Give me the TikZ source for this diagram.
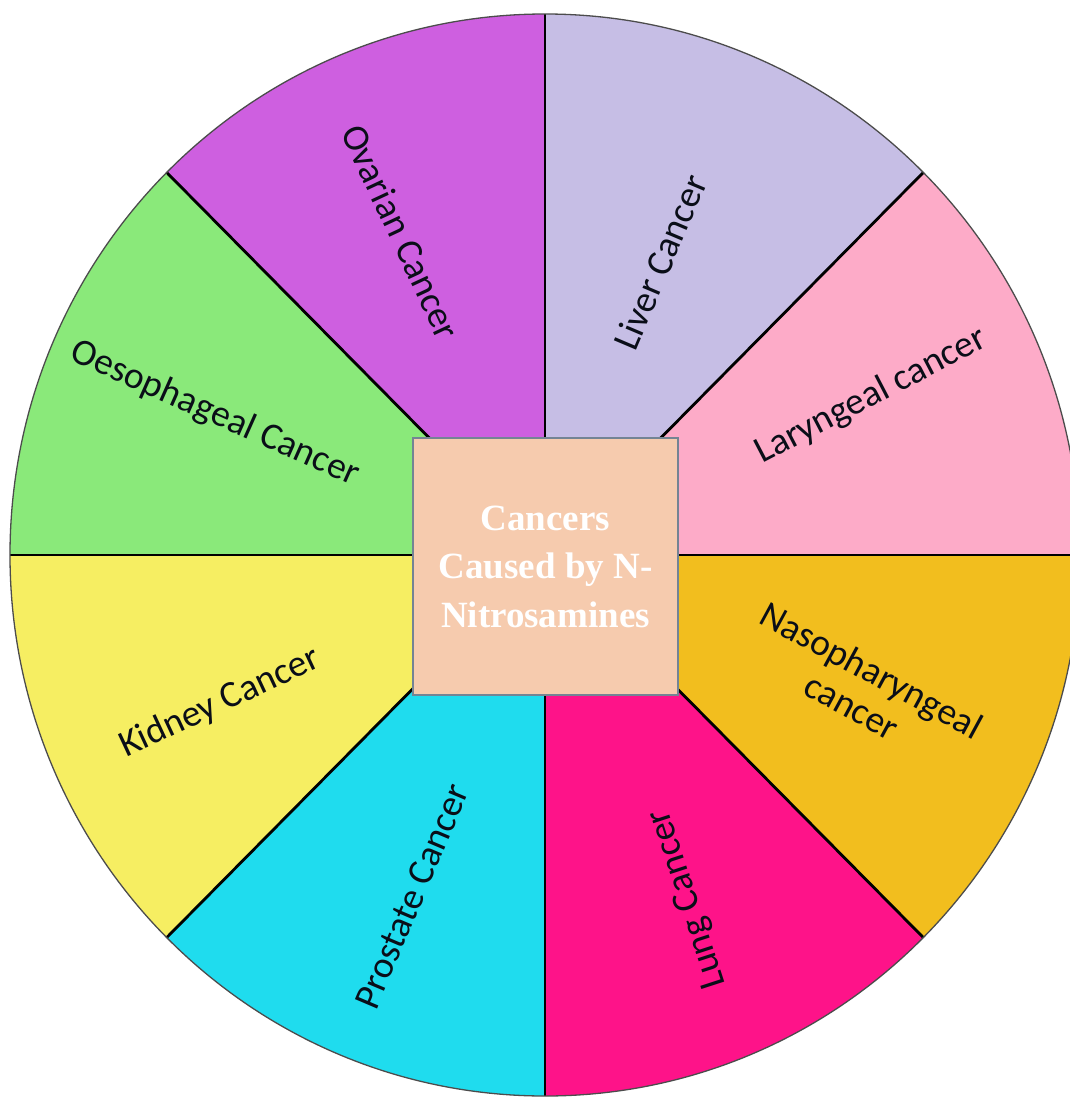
\documentclass[tikz,border=0pt]{standalone}
\usepackage{fontspec}
\usetikzlibrary{calc}
\setmainfont{Carlito}
\newfontfamily\boxfont{Liberation Serif}
\definecolor{cOva}{HTML}{CE5FE0}
\definecolor{cLiv}{HTML}{C6BEE5}
\definecolor{cLar}{HTML}{FDABC8}
\definecolor{cNas}{HTML}{F2BE1E}
\definecolor{cLun}{HTML}{FE1389}
\definecolor{cPro}{HTML}{1FDCEE}
\definecolor{cKid}{HTML}{F6EE62}
\definecolor{cOes}{HTML}{8AE97A}
\definecolor{cBox}{HTML}{F6CBAE}
\definecolor{cBoxLine}{HTML}{748494}
\definecolor{cTxt}{HTML}{0A0E18}
\begin{document}
\begin{tikzpicture}[x=1pt,y=-1pt,
  lbl/.style={text=cTxt,font=\fontsize{37.5}{41}\selectfont,inner sep=0pt,align=center},
  divider/.style={line width=2.8pt,black}]
\useasboundingbox (0,0) rectangle (1070,1097);
\begin{scope}
\clip (0,0) rectangle (1070,1097);
\coordinate (c) at (545,555);
\foreach \a/\b/\col in {-45/0/cLar,-90/-45/cLiv,-135/-90/cOva,-180/-135/cOes,135/180/cKid,90/135/cPro,45/90/cLun,0/45/cNas}{
  \fill[\col] (c) -- ($(c)+({535*cos(\a)},{541*sin(\a)})$) arc[start angle=\a,end angle=\b,x radius=535,y radius=541] -- cycle;
}
\foreach \a in {0,45,...,315}{
  \draw[divider] (c) -- ($(c)+({535*cos(\a)},{541*sin(\a)})$);
}
\draw[line width=1.3pt,black!70] (c) ellipse[x radius=535,y radius=541];
\end{scope}
\node[draw=cBoxLine,fill=cBox,line width=1.4pt,minimum width=265pt,minimum height=257pt,inner sep=0pt,
  text=white,align=center,font=\boxfont\bfseries\fontsize{37}{48.5}\selectfont] (center) at (545.5,566.5)
  {Cancers\\Caused by N-\\Nitrosamines};
\node[lbl,rotate=-65] (ovarian) at (401,232) {Ovarian Cancer};
\node[lbl,rotate=67] (liver) at (660,262) {Liver Cancer};
\node[lbl,rotate=27.5] (laryngeal) at (871,396) {Laryngeal cancer};
\node[lbl,rotate=-24] (oeso) at (215,414) {Oesophageal Cancer};
\node[lbl,rotate=-28.5] (naso) at (862,688) {Nasopharyngeal\\cancer};
\node[lbl,rotate=25] (kidney) at (220,703) {Kidney Cancer};
\node[lbl,rotate=67] (prostate) at (412,896) {Prostate Cancer};
\node[lbl,rotate=108] (lung) at (688,899) {Lung Cancer};
\end{tikzpicture}
\end{document}
